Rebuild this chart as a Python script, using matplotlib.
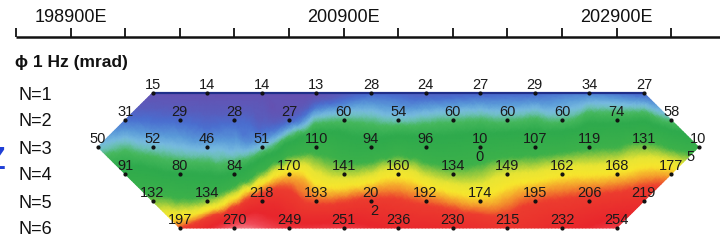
"""IP pseudosection (phase 1 Hz) recreation"""
import numpy as np
import matplotlib
matplotlib.use("Agg")
import matplotlib.pyplot as plt
import matplotlib.tri as mtri
from matplotlib.colors import LinearSegmentedColormap, Normalize

plt.rcParams["font.family"] = ["Liberation Sans", "DejaVu Sans"]

# --- data -------------------------------------------------------------
levels_n = [1, 2, 3, 4, 5, 6]
row_start = [199500, 199300, 199100, 199300, 199500, 199700]  # easting of first point
spacing = 400
n1 = [15, 14, 14, 13, 28, 24, 27, 29, 34, 27]
n2 = [31, 29, 28, 27, 60, 54, 60, 60, 60, 74, 58]
n3 = [50, 52, 46, 51, 110, 94, 96, 100, 107, 119, 131, 105]
n4 = [91, 80, 84, 170, 141, 160, 134, 149, 162, 168, 177]
n5 = [132, 134, 218, 193, 202, 192, 174, 195, 206, 219]
n6 = [197, 270, 249, 251, 236, 230, 215, 232, 254]
rows = [n1, n2, n3, n4, n5, n6]
# labels printed on two lines in the original: (row N, index) -> x shift of 2nd line (px)
wrapped = {(3, 7): -1, (3, 11): -8, (5, 4): 3}

tick_e = list(range(198500, 203301, 400))
tick_labels = {198900: "198900E", 200900: "200900E", 202900: "202900E"}

# --- geometry (pixel -> data) -----------------------------------------
px_per_m = 54.6 / 400
x0 = 198500 - 16 / px_per_m
x1 = 198500 + 704 / px_per_m
px_per_n = 27.0
y_top = 1 - 93 / px_per_n
y_bot = 1 + 147 / px_per_n


def py(p):
    return 1 + (p - 93) / px_per_n


def px(p):
    return 198500 + (p - 16) / px_per_m


xs, ys, zs = [], [], []
for n, start, vals in zip(levels_n, row_start, rows):
    for i, v in enumerate(vals):
        xs.append(start + i * spacing)
        ys.append(n)
        zs.append(v)
xs = np.array(xs, float)
ys = np.array(ys, float)
zs = np.array(zs, float)

# triangulate in pixel-like space, drop flat triangles, plot in data space
t0 = mtri.Triangulation(xs * px_per_m, ys * px_per_n)
tris = t0.triangles
a = (xs[tris[:, 1]] - xs[tris[:, 0]]) * (ys[tris[:, 2]] - ys[tris[:, 0]]) - \
    (xs[tris[:, 2]] - xs[tris[:, 0]]) * (ys[tris[:, 1]] - ys[tris[:, 0]])
tris = tris[np.abs(a) > 1e-6]
tri = mtri.Triangulation(xs, ys, triangles=tris)
try:
    refiner = mtri.UniformTriRefiner(tri)
    tri_f, z_f = refiner.refine_field(
        zs, triinterpolator=mtri.CubicTriInterpolator(tri, zs, kind="geom"),
        subdiv=4)
except Exception:
    tri_f, z_f = tri, zs

vmin, vmax = 10, 300
stops = [
    (13, "#6650b0"), (22, "#5a5cbc"), (30, "#4a6ed0"), (40, "#5a9ad8"),
    (48, "#78bce0"), (54, "#6cc0b8"), (62, "#46b85c"), (80, "#2eaa4c"),
    (122, "#3cb14a"), (136, "#9acb3e"), (150, "#e8e534"), (166, "#f8e62c"),
    (182, "#f49a2c"), (198, "#ec3c2e"), (240, "#e8262c"), (262, "#f04a58"),
    (300, "#fbeef0"),
]
cmap = LinearSegmentedColormap.from_list(
    "ip", [((v - vmin) / (vmax - vmin), c) for v, c in [(vmin, stops[0][1])] + stops]
)

fig = plt.figure(figsize=(7.2, 2.4), dpi=100)
ax = fig.add_axes([0, 0, 1, 1])
ax.set_xlim(x0, x1)
ax.set_ylim(y_bot, y_top)
ax.axis("off")

ax.tripcolor(tri_f, np.clip(z_f, vmin, vmax), shading="gouraud", cmap=cmap,
             norm=Normalize(vmin, vmax))

# dark blue top edge
top_x = [row_start[0], row_start[0] + (len(n1) - 1) * spacing]
ax.plot(top_x, [1, 1], color="#1f2f8a", lw=1.6, solid_capstyle="butt")

# dots and values
ax.plot(xs, ys, "o", ms=2.0, color="#111111")
for n, start, vals in zip(levels_n, row_start, rows):
    for i, v in enumerate(vals):
        x = start + i * spacing
        s = str(v)
        if (n, i) in wrapped:
            ax.text(x, n - 8 / px_per_n, s[:2], ha="center", va="center",
                    fontsize=10.5, color="#1a1a1a")
            ax.text(x + wrapped[(n, i)] / px_per_m, n + 10 / px_per_n, s[2:],
                    ha="center", va="center", fontsize=10.5, color="#1a1a1a")
        else:
            ax.text(x, n - 8 / px_per_n, s, ha="center", va="center",
                    fontsize=10.5, color="#1a1a1a")

# row labels
for n in levels_n:
    ax.text(px(18), n + 2 / px_per_n, f"N={n}", ha="left", va="center",
            fontsize=13, color="#111111")

ax.text(px(15), py(62), "\u03d5 1 Hz (mrad)", ha="left", va="center",
        fontsize=12.5, fontweight="bold", color="#111111")

# easting scale bar at the top
y_line = py(37)
ax.plot([tick_e[0], x1], [y_line, y_line], color="#111111", lw=1.8,
        solid_capstyle="butt")
ax.vlines(tick_e, y_line, y_line - 9 / px_per_n, color="#111111", lw=1.3)
for e, lab in tick_labels.items():
    ax.text(e, py(18), lab, ha="center", va="center", fontsize=13,
            color="#111111")

# clipped blue mark on the left edge
fig.text(-14 / 720, 1 - 161 / 240, "Z", ha="left", va="center", fontsize=22,
         fontweight="bold", color="#1f3fd6")

fig.savefig("out.png", dpi=100)
plt.close(fig)
